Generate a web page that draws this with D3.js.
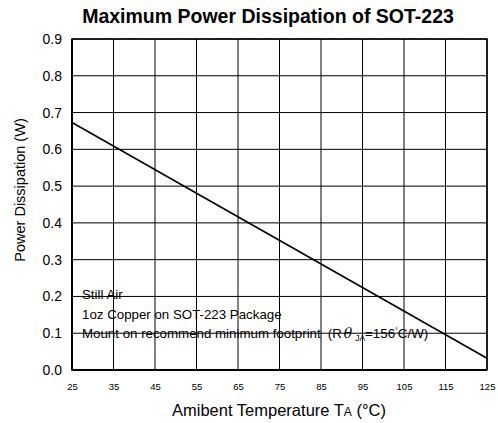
<html>
<head>
  <script src="https://d3js.org/d3.v7.min.js"></script>
  <style>
    body{ margin:0; background:#fff; }
    svg{ display:block; font-family: "Liberation Sans", Arial, sans-serif; }
  </style>
</head>
<body>
  <script type="text/javascript">

    // data
    var tempTicks = [25, 35, 45, 55, 65, 75, 85, 95, 105, 115, 125];
    var powerTicks = [0, 0.1, 0.2, 0.3, 0.4, 0.5, 0.6, 0.7, 0.8, 0.9];
    var temps = [25, 125];
    var power = [0.673, 0.032];
    var notes = ["Still Air", "1oz Copper on SOT-223 Package", "Mount on recommend minimum footprint"];

    var screen = {width: 498, height: 423}
    var margins = {top: 39, right: 11, bottom: 53, left: 72}
    var width = screen.width - margins.left - margins.right;
    var height = screen.height - margins.top - margins.bottom;

    var svg = d3.select("body").append("svg")
      .attr("width", screen.width)
      .attr("height", screen.height)

    var xScale = d3.scaleLinear()
        .domain([25, 125])
        .range([0, width]);
    var yScale = d3.scaleLinear()
        .domain([0, 0.9])
        .range([height, 0]);

    var plot = svg.append("g")
        .attr('transform', 'translate(' + margins.left + ',' + margins.top + ')')

    // grid
    plot.selectAll(".vgrid")
        .data(tempTicks)
        .enter()
        .append("line")
        .attr("x1", function(d){return xScale(d)})
        .attr("x2", function(d){return xScale(d)})
        .attr("y1", 0)
        .attr("y2", height)
        .attr("stroke", "#000")
        .attr("stroke-width", 1)

    plot.selectAll(".hgrid")
        .data(powerTicks)
        .enter()
        .append("line")
        .attr("x1", 0)
        .attr("x2", width)
        .attr("y1", function(d){return yScale(d)})
        .attr("y2", function(d){return yScale(d)})
        .attr("stroke", "#000")
        .attr("stroke-width", 1)

    // frame
    plot.append("rect")
        .attr("x", 0).attr("y", 0)
        .attr("width", width).attr("height", height)
        .attr("fill", "none")
        .attr("stroke", "#000")
        .attr("stroke-width", 1.5)
    plot.append("line")
        .attr("x1", 0).attr("x2", 0).attr("y1", 0).attr("y2", height)
        .attr("stroke", "#000").attr("stroke-width", 2)
    plot.append("line")
        .attr("x1", 0).attr("x2", width).attr("y1", height).attr("y2", height)
        .attr("stroke", "#000").attr("stroke-width", 2)

    // derating line
    var line = d3.line()
        .x(function(d){return xScale(d[0])})
        .y(function(d){return yScale(d[1])})
    plot.append("path")
        .datum(d3.zip(temps, power))
        .attr("d", line)
        .attr("fill", "none")
        .attr("stroke", "#000")
        .attr("stroke-width", 1.6)

    // axes
    var xAxis = d3.axisBottom(xScale)
        .tickValues(tempTicks)
        .tickSize(0)
        .tickPadding(13)
    var xg = plot.append("g")
        .attr('transform', 'translate(0,' + height + ')')
        .call(xAxis)
    xg.select(".domain").remove()
    xg.selectAll("text")
        .attr("font-size", 9.5)
        .attr("font-family", "Liberation Sans, Arial, sans-serif")
        .attr("fill", "#000")

    var yAxis = d3.axisLeft(yScale)
        .tickValues(powerTicks)
        .tickSize(0)
        .tickPadding(10)
        .tickFormat(d3.format(".1f"))
    var yg = plot.append("g").call(yAxis)
    yg.select(".domain").remove()
    yg.selectAll("text")
        .attr("font-size", 14)
        .attr("font-family", "Liberation Sans, Arial, sans-serif")
        .attr("fill", "#000")

    // notes
    var noteG = plot.append("g")
        .attr("font-size", 13.3)
        .attr("fill", "#000")
    var noteText = noteG.selectAll("text")
        .data(notes)
        .enter()
        .append("text")
        .attr("x", 10)
        .attr("y", function(d,i){return yScale(0.2) + 3 + i*19.5})
        .text(function(d){return d})

    var rth = d3.select(noteText.nodes()[2])
    rth.append("tspan").attr("dx", 7).text("(R")
    rth.append("tspan").attr("font-style", "italic").attr("font-family", "DejaVu Serif, serif").attr("font-size", 14).attr("dx", 2).text("θ")
    rth.append("tspan").attr("font-size", 8.5).attr("dy", 3).attr("dx", 3).text("JA")
    rth.append("tspan").attr("dy", -3).text("=156")
    rth.append("tspan").attr("font-size", 7).attr("dy", -5).text("°")
    rth.append("tspan").attr("dy", 5).text("C/W)")

    // titles
    svg.append("text")
        .attr("x", 268)
        .attr("y", 23)
        .attr("text-anchor", "middle")
        .attr("font-size", 19.5)
        .attr("font-weight", "bold")
        .text("Maximum Power Dissipation of SOT-223")

    var xl = svg.append("text")
        .attr("x", 279)
        .attr("y", 416)
        .attr("text-anchor", "middle")
        .attr("font-size", 16.5)
    xl.append("tspan").text("Amibent Temperature T")
    xl.append("tspan").attr("font-size", 12).text("A")
    xl.append("tspan").text(" (°C)")

    svg.append("text")
        .attr("transform", "translate(25,190) rotate(-90)")
        .attr("text-anchor", "middle")
        .attr("font-size", 14.5)
        .text("Power Dissipation (W)")

  </script>
</body>
</html>
